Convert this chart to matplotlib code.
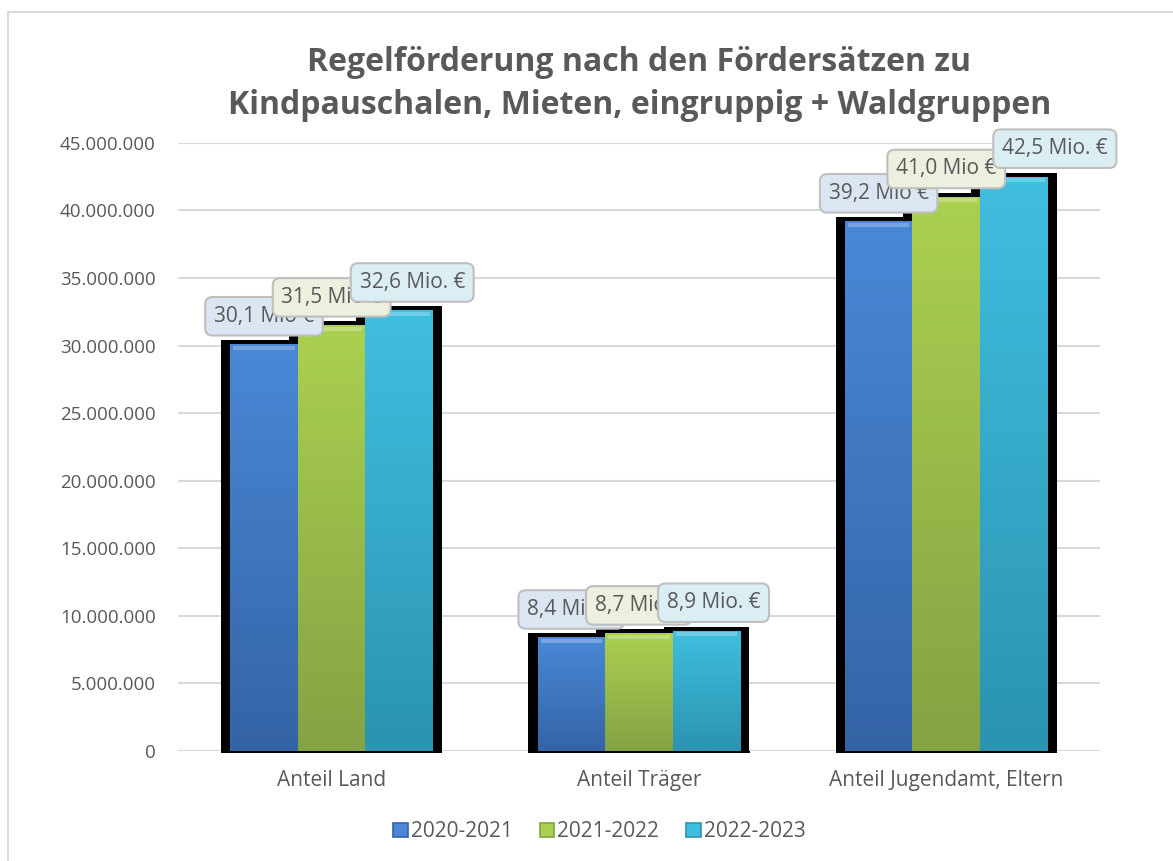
import matplotlib.pyplot as plt
import numpy as np
from matplotlib.colors import LinearSegmentedColormap
from matplotlib.lines import Line2D
from matplotlib.patches import Patch

plt.rcParams["font.family"] = ["Open Sans", "DejaVu Sans"]

categories = ["Anteil Land", "Anteil Träger", "Anteil Jugendamt, Eltern"]
series = ["2020-2021", "2021-2022", "2022-2023"]
v2020 = [30.1e6, 8.4e6, 39.2e6]
v2021 = [31.5e6, 8.7e6, 41.0e6]
v2022 = [32.6e6, 8.9e6, 42.5e6]
labels2020 = ["30,1 Mio €", "8,4 Mio €", "39,2 Mio €"]
labels2021 = ["31,5 Mio €", "8,7 Mio €", "41,0 Mio €"]
labels2022 = ["32,6 Mio. €", "8,9 Mio. €", "42,5 Mio. €"]
yticks = np.arange(0, 45e6 + 1, 5e6)

values = [v2020, v2021, v2022]
labels = [labels2020, labels2021, labels2022]
# (top, bottom) colours of the bar gradient, label box face
grad = [("#4a88d6", "#3464a6"), ("#aad050", "#84a344"), ("#40bee0", "#2b94b0")]
box_face = ["#dce6f2", "#ebf1de", "#dbeef4"]
# manual label x shifts in pixels (the source had some dragged by hand)
label_dx = [[0, 0, 0], [0, 0, 0], [13, 7, 41]]

fig = plt.figure(figsize=(11.73, 8.61), dpi=100)
ax = fig.add_axes([0.1517, 0.1278, 0.786, 0.7062])

x = np.arange(len(categories))
w = 0.22
text_col = "#595959"

# black drop shadow behind each group of bars
for i, vals in enumerate(values):
    ax.bar(x + (i - 1) * w, np.array(vals) + 0.3e6, width=w * 1.27,
           color="black", zorder=2)
ax.bar(x, 0.15e6, width=3 * w + 0.06, bottom=-0.15e6, color="black",
       zorder=2, clip_on=False)

for i, vals in enumerate(values):
    cmap = LinearSegmentedColormap.from_list(f"g{i}", [grad[i][1], grad[i][0]])
    bars = ax.bar(x + (i - 1) * w, vals, width=w, color=grad[i][0],
                  zorder=3)
    for b in bars:
        x0, y0 = b.get_x(), b.get_y()
        x1, y1 = x0 + b.get_width(), y0 + b.get_height()
        img = np.linspace(0, 1, 64).reshape(-1, 1)
        im = ax.imshow(img, extent=[x0, x1, y0, y1], origin="lower",
                       aspect="auto", cmap=cmap, zorder=3.5)
        im.set_clip_path(b)
        # lighter bevel on top
        ax.plot([x0 + 0.01, x1 - 0.01], [y1 - 0.25e6, y1 - 0.25e6],
                color="white", alpha=0.25, lw=3, zorder=3.6,
                solid_capstyle="butt")

for i, vals in enumerate(values):
    for j, v in enumerate(vals):
        ax.annotate(labels[i][j], (x[j] + (i - 1) * w, v),
                    xytext=(label_dx[i][j], 28), textcoords="offset pixels",
                    ha="center", va="center", fontsize=15, color=text_col,
                    zorder=5 + i,
                    bbox=dict(boxstyle="round,pad=0.42,rounding_size=0.35",
                              fc=box_face[i], ec="#bfbfbf", lw=1.5))

ax.set_xlim(-0.5, 2.5)
ax.set_ylim(0, 45e6)
ax.set_yticks(yticks)
ax.set_yticklabels([f"{int(t):,}".replace(",", ".") for t in yticks])
ax.set_xticks(x)
ax.set_xticklabels(categories)
ax.tick_params(axis="both", length=0, colors=text_col)
ax.tick_params(axis="y", pad=16, labelsize=13.5)
ax.tick_params(axis="x", pad=14, labelsize=15)
ax.grid(axis="y", color="#d9d9d9", lw=1.5, zorder=0)
ax.set_axisbelow(True)
for s in ax.spines.values():
    s.set_visible(False)
ax.axhline(0, color="#d9d9d9", lw=1.5, zorder=1)

fig.text(0.545, 0.903,
         "Regelförderung nach den Fördersätzen zu\n"
         "Kindpauschalen, Mieten, eingruppig + Waldgruppen",
         ha="center", va="center", fontsize=23, fontweight="bold",
         color=text_col, linespacing=1.4)

handles = [Patch(facecolor=grad[i][0], edgecolor=grad[i][1], lw=1.2)
           for i in range(3)]
fig.legend(handles, series, loc="center", bbox_to_anchor=(0.511, 0.034),
           ncol=3, frameon=False, fontsize=15, labelcolor=text_col,
           handlelength=0.7, handleheight=0.7, handletextpad=0.15,
           columnspacing=1.3)

# chart area border
fig.add_artist(Line2D([8 / 1173, 8 / 1173], [0, 1 - 12 / 861],
                      color="#d9d9d9", lw=1.5))
fig.add_artist(Line2D([8 / 1173, 1], [1 - 12 / 861, 1 - 12 / 861],
                      color="#d9d9d9", lw=1.5))

fig.savefig("out.png", dpi=100)
